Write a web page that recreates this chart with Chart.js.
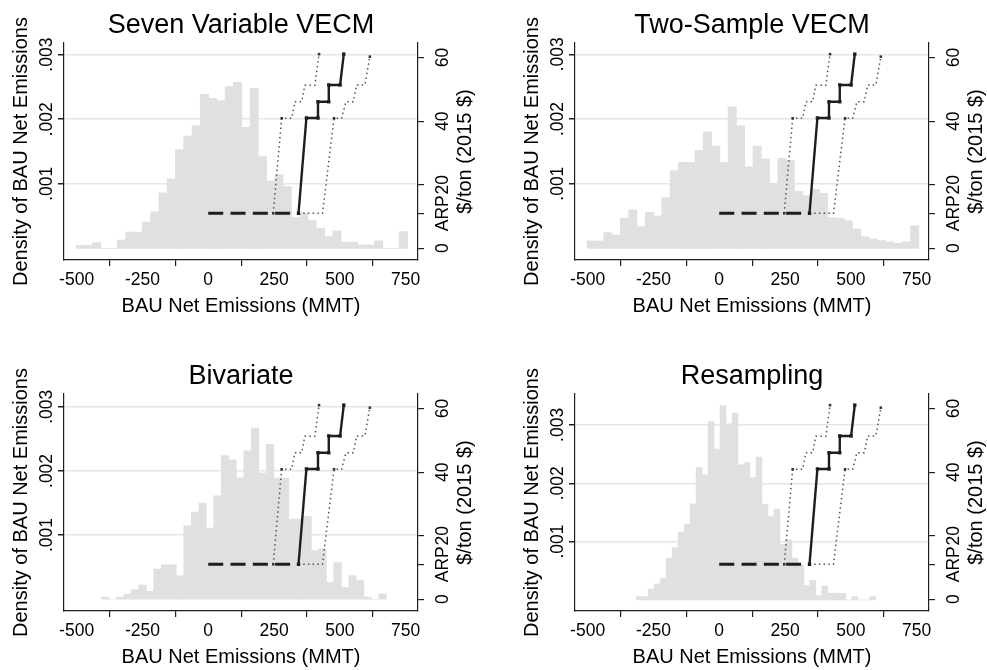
<!DOCTYPE html>
<html>
<head>
<meta charset="utf-8">
<script src="https://cdn.jsdelivr.net/npm/chart.js@4.4.1/dist/chart.umd.min.js"></script>
<style>
  html, body { margin: 0; padding: 0; background: #fff; }
  #wrap { position: relative; width: 987px; height: 670px; overflow: hidden; }
  canvas { position: absolute; }
</style>
</head>
<body>
<div id="wrap">
  <canvas id="p1" width="476" height="319" style="left:0;top:0"></canvas>
  <canvas id="p2" width="476" height="319" style="left:511px;top:0"></canvas>
  <canvas id="p3" width="476" height="319" style="left:0;top:351px"></canvas>
  <canvas id="p4" width="476" height="319" style="left:511px;top:351px"></canvas>
</div>
<script>
// axis ticks
const xTicks = [-500, -250, 0, 250, 500, 750];
const densityTicks = [0.001, 0.002, 0.003];
const arpPrice = 11;
const priceTicks = [0, arpPrice, 20, 40, 60];

// supply curve ($/ton vs MMT), same in every panel
const arpLineX = [0, 343];
const supplyX = [343, 373, 417, 417, 458, 458, 501, 515];
const supplyPrice = [11, 41, 41, 46.1, 46.1, 51.4, 51.4, 61.1];
const lowerX = [247, 279, 317, 329, 355, 367, 405, 421];
const lowerPrice = [11, 40.9, 40.9, 46.1, 46.1, 51.3, 51.3, 61.1];
const upperX = [343, 434, 478, 507, 523, 551, 564, 595, 614];
const upperPrice = [11, 11, 40.9, 40.9, 46.1, 46.1, 51.4, 51.4, 60.3];

// histograms: bin centres (MMT) and densities
const sevenBins = [-487, -455.5, -424, -392.5, -361, -329.5, -298, -266.5, -235, -203.5,
  -172, -140.5, -109, -77.5, -46, -14.5, 17, 48.5, 80, 111.5,
  143, 174.5, 206, 237.5, 269, 300.5, 332, 363.5, 395, 426.5,
  458, 489.5, 521, 552.5, 584, 615.5, 647, 678.5, 710, 741.5];
const sevenDensity = [0.000046, 0.000046, 0.000088, 0, 0, 0.00013, 0.000252, 0.000252, 0.000407, 0.000565,
  0.000858, 0.001077, 0.001525, 0.00174, 0.0019, 0.002387, 0.002325, 0.002288, 0.002505, 0.002572,
  0.001876, 0.00248, 0.001421, 0.001045, 0.001138, 0.000957, 0.000477, 0.000545, 0.00043, 0.000312,
  0.000183, 0.000271, 0.000096, 0.000096, 0.000054, 0.000054, 0.000116, 0, 0, 0.00026];

const twoBins = [-486, -454.5, -423, -391.5, -360, -328.5, -297, -265.5, -234, -202.5,
  -171, -139.5, -108, -76.5, -45, -13.5, 18, 49.5, 81, 112.5,
  144, 175.5, 207, 238.5, 270, 301.5, 333, 364.5, 396, 427.5,
  459, 490.5, 522, 553.5, 585, 616.5, 648, 679.5, 711, 742.5];
const twoDensity = [0.000114, 0.000114, 0.000243, 0.000207, 0.000465, 0.000594, 0.000336, 0.000558, 0.000501, 0.000783,
  0.001201, 0.001331, 0.001331, 0.001516, 0.001803, 0.001583, 0.001325, 0.00219, 0.001896, 0.001262,
  0.001583, 0.001386, 0.001006, 0.001392, 0.001362, 0.000883, 0.000815, 0.000913, 0.000852, 0.000474,
  0.000465, 0.000428, 0.0003, 0.000181, 0.000145, 0.00012, 0.0001, 0.00008, 0.0001, 0.00035];

const biBins = [-392, -363.5, -335, -306.5, -278, -249.5, -221, -192.5, -164, -135.5,
  -107, -78.5, -50, -21.5, 7, 35.5, 64, 92.5, 121, 149.5,
  178, 206.5, 235, 263.5, 292, 320.5, 349, 377.5, 406, 434.5,
  463, 491.5, 520, 548.5, 577, 605.5, 634, 662.5];
const biDensity = [0.000034, 0, 0.000034, 0.000081, 0.000148, 0.000221, 0.000122, 0.00047, 0.000537, 0.000537,
  0.000366, 0.001145, 0.001358, 0.001498, 0.001109, 0.001612, 0.00224, 0.002173, 0.001888, 0.002313,
  0.002667, 0.001966, 0.002417, 0.001888, 0.001888, 0.001249, 0.001249, 0.00129, 0.000755, 0.000787,
  0.000262, 0.000573, 0.000184, 0.000366, 0.000293, 0.000034, 0, 0.000081];

const resBins = [-304, -281.25, -258.5, -235.75, -213, -190.25, -167.5, -144.75, -122, -99.25,
  -76.5, -53.75, -31, -8.25, 14.5, 37.25, 60, 82.75, 105.5, 128.25,
  151, 173.75, 196.5, 219.25, 242, 264.75, 287.5, 310.25, 333, 355.75,
  378.5, 401.25, 424, 446.75, 469.5, 492.25, 515, 537.75, 560.5, 583.25];
const resDensity = [0.000057, 0.000057, 0.000189, 0.000274, 0.000372, 0.000715, 0.000897, 0.001161, 0.001298, 0.001647,
  0.002269, 0.002144, 0.003058, 0.002585, 0.003328, 0.003019, 0.003202, 0.002316, 0.002355, 0.002098,
  0.002448, 0.001641, 0.001429, 0.001556, 0.000955, 0.001029, 0.000715, 0.000588, 0.000246, 0.000332,
  0.000074, 0.00024, 0.000114, 0.000114, 0.000114, 0, 0.000057, 0, 0, 0.000057];

Chart.defaults.font.family = '"Liberation Sans", Arial, Helvetica, sans-serif';
Chart.defaults.color = '#000';

const FONT = '"Liberation Sans", Arial, Helvetica, sans-serif';
const INK = '#1e1e1e';

function toPoints(xs, ys) {
  return xs.map((x, i) => ({ x: x, y: ys[i] }));
}

function rotText(ctx, s, x, y) {
  ctx.save();
  ctx.translate(x, y);
  ctx.rotate(-Math.PI / 2);
  ctx.fillText(s, 0, 0);
  ctx.restore();
}

// titles drawn around the plot region
const panelText = {
  id: 'panelText',
  afterDraw(chart, args, opts) {
    const { ctx, chartArea: a } = chart;
    const cx = (a.left + a.right) / 2;
    const cy = (a.top + a.bottom) / 2;
    ctx.save();
    ctx.fillStyle = '#000';
    ctx.textAlign = 'center';
    ctx.textBaseline = 'alphabetic';
    ctx.font = '27px ' + FONT;
    ctx.fillText(opts.title, cx, 33);
    ctx.font = '20px ' + FONT;
    ctx.fillText('BAU Net Emissions (MMT)', cx, 311.5);
    rotText(ctx, 'Density of BAU Net Emissions', 26.7, cy);
    rotText(ctx, '$/ton (2015 $)', 471, cy);
    ctx.restore();
  }
};

function makePanel(id, title, bins, density, yMin, yMax) {
  const markers = n => Array.from({ length: n }, () => 2.4);
  new Chart(document.getElementById(id), {
    type: 'bar',
    data: {
      datasets: [
        {
          type: 'line',
          data: toPoints(arpLineX, [arpPrice, arpPrice]),
          yAxisID: 'y2',
          borderColor: INK,
          borderWidth: 3,
          borderDash: [15, 7.3],
          pointRadius: 0,
          order: 1
        },
        {
          type: 'line',
          data: toPoints(supplyX, supplyPrice),
          yAxisID: 'y2',
          borderColor: INK,
          borderWidth: 2.4,
          borderJoinStyle: 'miter',
          pointStyle: 'rect',
          pointRadius: markers(supplyX.length),
          pointBackgroundColor: INK,
          pointBorderWidth: 0,
          order: 0
        },
        {
          type: 'line',
          data: toPoints(lowerX, lowerPrice),
          yAxisID: 'y2',
          borderColor: '#555',
          borderWidth: 1.5,
          borderDash: [1.5, 3.2],
          pointStyle: 'rect',
          pointRadius: [1.8, 1.8, 0, 0, 0, 0, 0, 1.8],
          pointBackgroundColor: '#333',
          pointBorderWidth: 0,
          order: 2
        },
        {
          type: 'line',
          data: toPoints(upperX, upperPrice),
          yAxisID: 'y2',
          borderColor: '#555',
          borderWidth: 1.5,
          borderDash: [1.5, 3.2],
          pointStyle: 'rect',
          pointRadius: [0, 0, 1.8, 0, 0, 0, 0, 0, 1.8],
          pointBackgroundColor: '#333',
          pointBorderWidth: 0,
          order: 2
        },
        {
          type: 'bar',
          data: toPoints(bins, density),
          yAxisID: 'y',
          backgroundColor: '#e0e0e0',
          borderWidth: 0,
          barPercentage: 1,
          categoryPercentage: 1,
          order: 3
        }
      ]
    },
    options: {
      responsive: false,
      animation: false,
      devicePixelRatio: 1,
      events: [],
      layout: { padding: { top: 43, left: 0, right: 0, bottom: 0 } },
      plugins: {
        legend: { display: false },
        tooltip: { enabled: false },
        panelText: { title: title }
      },
      scales: {
        x: {
          type: 'linear',
          position: 'bottom',
          min: -548,
          max: 797,
          offset: false,
          afterBuildTicks: s => { s.ticks = xTicks.map(v => ({ value: v })); },
          afterFit: s => { s.height = 59; },
          grid: { drawOnChartArea: false, tickLength: 6, tickColor: INK, lineWidth: 1.2 },
          border: { display: true, color: INK, width: 1.2 },
          ticks: { font: { size: 17.5 }, color: '#000', padding: 4, maxRotation: 0, autoSkip: false }
        },
        y: {
          type: 'linear',
          position: 'left',
          min: yMin,
          max: yMax,
          afterBuildTicks: s => { s.ticks = densityTicks.map(v => ({ value: v })); },
          afterFit: s => { s.width = 64; },
          grid: { color: '#e6e6e6', lineWidth: 1.5, tickLength: 6, tickColor: INK },
          border: { display: true, color: INK, width: 1.2 },
          ticks: {
            font: { size: 17.5 }, color: '#000', autoSkip: false,
            minRotation: 90, maxRotation: 90, crossAlign: 'center', padding: -6,
            callback: v => String(v.toFixed(3)).replace(/^0/, '')
          }
        },
        y2: {
          type: 'linear',
          position: 'right',
          min: -3.7,
          max: 64.6,
          afterBuildTicks: s => { s.ticks = priceTicks.map(v => ({ value: v })); },
          afterFit: s => { s.width = 58; },
          grid: { drawOnChartArea: false, tickLength: 6, tickColor: INK, lineWidth: 1.2 },
          border: { display: true, color: INK, width: 1.2 },
          ticks: {
            font: { size: 17.5 }, color: '#000', autoSkip: false,
            minRotation: 90, maxRotation: 90, crossAlign: 'center', padding: 1,
            callback: v => (v === arpPrice ? 'ARP' : String(v))
          }
        }
      }
    },
    plugins: [panelText]
  });
}

makePanel('p1', 'Seven Variable VECM', sevenBins, sevenDensity, -0.00018, 0.00318);
makePanel('p2', 'Two-Sample VECM', twoBins, twoDensity, -0.00018, 0.003175);
makePanel('p3', 'Bivariate', biBins, biDensity, -0.000184, 0.0032);
makePanel('p4', 'Resampling', resBins, resDensity, -0.00019, 0.00353);
</script>
</body>
</html>
